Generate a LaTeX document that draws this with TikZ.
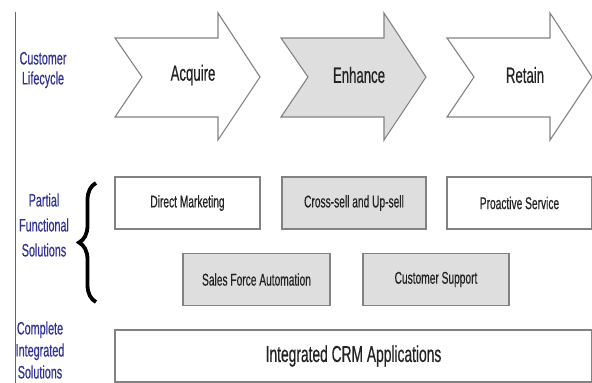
\documentclass[tikz,border=0pt]{standalone}
\usepackage{fontspec}
\setmainfont{Liberation Sans}[FakeStretch=0.6, FakeBold=0.4]
\usetikzlibrary{decorations.pathreplacing}
\definecolor{labelblue}{RGB}{50,50,150}
\definecolor{boxgray}{RGB}{222,222,222}
\definecolor{edgegray}{RGB}{130,130,130}
\definecolor{textgray}{RGB}{35,35,35}

\begin{document}
\begin{tikzpicture}[x=1pt, y=-1pt,
    stage/.style={draw=edgegray, line width=1.1pt, line join=miter},
    solution/.style={draw=edgegray, line width=1.3pt, minimum height=52pt,
      inner sep=0pt, text=textgray, font=\fontsize{17}{19}\selectfont},
    rowlabel/.style={text=labelblue, align=center}]

    \useasboundingbox (0, 0) rectangle (592, 383);

    \draw [line width=1pt, gray!80!black] (15, 12) -- (15, 383);

    \foreach \x/\stagename/\stagefill in
      {115/Acquire/white, 281/Enhance/boxgray, 447/Retain/white} {
      \draw [stage, fill=\stagefill] (\x, 38) -- ++(103, 0) -- ++(0, -25)
        -- ++(42, 64) -- ++(-42, 63) -- ++(0, -23) -- ++(-103, 0)
        -- ++(27, -40) -- cycle;
      \node [text=textgray, font=\fontsize{22}{24}\selectfont]
        (\stagename) at (\x + 78, 75) {\stagename};
    }

    \node [rowlabel, font=\fontsize{18}{20}\selectfont] (lifecycle) at (43, 70)
      {Customer\\Lifecycle};
    \node [rowlabel, font=\fontsize{18}{25}\selectfont] (partial) at (44, 225)
      {Partial\\Functional\\Solutions};
    \node [rowlabel, font=\fontsize{18}{22}\selectfont] (complete) at (40, 350)
      {Complete\\Integrated\\Solutions};

    \draw [decorate, decoration={brace, amplitude=17pt}, line width=3.8pt]
      (96, 302) -- (96, 183);

    \node [solution, minimum width=145pt, fill=white] (direct) at (187.5, 203)
      {Direct Marketing};
    \node [solution, minimum width=144pt, fill=boxgray] (crosssell) at (354, 203)
      {Cross-sell and Up-sell};
    \node [solution, minimum width=145pt, fill=white] (proactive) at (519.5, 203)
      {Proactive Service};
    \node [solution, minimum width=147pt, fill=boxgray] (sfa) at (256.5, 279.5)
      {Sales Force Automation};
    \node [solution, minimum width=146pt, fill=boxgray] (support) at (436, 279.5)
      {Customer Support};
    \node [solution, minimum width=477pt, fill=white,
      font=\fontsize{23}{26}\selectfont] (crm) at (353.5, 356)
      {Integrated CRM Applications};

  \end{tikzpicture}
\end{document}
